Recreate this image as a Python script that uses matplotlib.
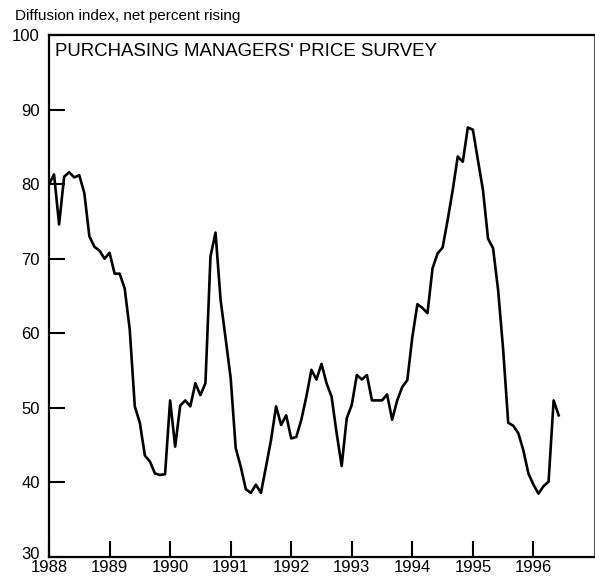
import numpy as np
import matplotlib
matplotlib.use("Agg")
import matplotlib.pyplot as plt
from matplotlib.transforms import ScaledTranslation

# monthly diffusion index, Jan 1988 - Jun 1996
v1988 = [80.0, 81.3, 74.6, 81.0, 81.6, 80.9, 81.2, 78.8, 73.0, 71.6, 71.1, 70.0]
v1989 = [70.8, 68.0, 68.0, 66.0, 60.5, 50.2, 48.0, 43.6, 42.8, 41.2, 41.0, 41.1]
v1990 = [51.0, 44.8, 50.3, 51.0, 50.2, 53.3, 51.7, 53.3, 70.3, 73.5, 64.5, 59.3]
v1991 = [54.0, 44.6, 42.1, 39.1, 38.6, 39.7, 38.6, 42.1, 45.7, 50.2, 47.7, 49.0]
v1992 = [45.9, 46.1, 48.4, 51.5, 55.1, 53.8, 55.9, 53.3, 51.5, 46.6, 42.2, 48.6]
v1993 = [50.4, 54.4, 53.8, 54.4, 51.0, 51.0, 51.0, 51.8, 48.4, 51.0, 52.8, 53.7]
v1994 = [59.5, 63.9, 63.4, 62.7, 68.7, 70.7, 71.5, 75.2, 79.2, 83.7, 83.0, 87.6]
v1995 = [87.3, 83.2, 79.2, 72.7, 71.4, 65.8, 57.8, 48.0, 47.6, 46.6, 44.3, 41.2]
v1996 = [39.7, 38.5, 39.5, 40.1, 51.0, 49.0]

values = v1988 + v1989 + v1990 + v1991 + v1992 + v1993 + v1994 + v1995 + v1996
t = 1988 + np.arange(len(values)) / 12.0

year_ticks = list(range(1988, 1997))
y_ticks = [30, 40, 50, 60, 70, 80, 90, 100]

font = 'Liberation Sans'

fig = plt.figure(figsize=(5.95, 5.85), dpi=100)
ax = fig.add_axes([49/595, 1-557/585, 545/595, 522/585])

ax.plot(t, values, color='black', lw=1.9)

ax.set_xlim(1988, 1997)
ax.set_ylim(30, 100)
ax.set_xticks(year_ticks)
ax.set_xticklabels([str(y) for y in year_ticks], family=font, fontsize=12)
ax.set_yticks(y_ticks)
ax.set_yticklabels([str(y) for y in y_ticks], family=font, fontsize=12)
ax.tick_params(axis='x', direction='in', length=11.5, width=1.5, pad=2.5)
ax.tick_params(axis='y', direction='in', length=11.5, width=1.5, pad=6.5)

# nudge the "30" label up a little so it clears "1988"
lab30 = ax.get_yticklabels()[0]
lab30.set_transform(lab30.get_transform() + ScaledTranslation(0, 4/100, fig.dpi_scale_trans))

for side in ['left', 'bottom', 'top']:
    ax.spines[side].set_linewidth(1.6)
ax.spines['right'].set_linewidth(0.8)
ax.spines['right'].set_color('#555555')

ax.text(0.011, 0.985, "PURCHASING MANAGERS' PRICE SURVEY", transform=ax.transAxes,
        ha='left', va='top', family=font, fontsize=13.4)

fig.text(15/595, 1-9/585, 'Diffusion index, net percent rising', ha='left', va='top',
         family=font, fontsize=11)

fig.savefig('out.png', dpi=100)
